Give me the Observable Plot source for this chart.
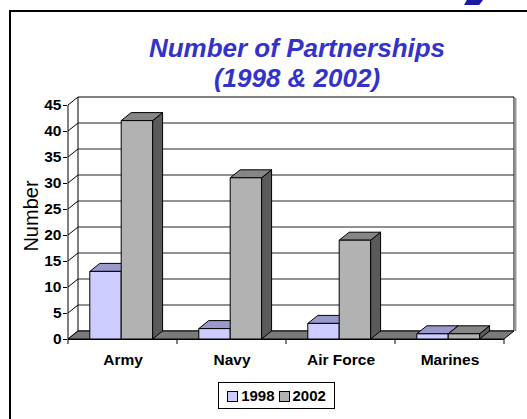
<!DOCTYPE html>
<html>
<head>
<meta charset="utf-8">
<script src="https://cdn.jsdelivr.net/npm/d3@7"></script>
<script src="https://cdn.jsdelivr.net/npm/@observablehq/plot@0.6"></script>
<style>
  html, body { margin: 0; padding: 0; background: #fff; }
  #wrap { position: relative; width: 527px; height: 419px; overflow: hidden; font-family: "Liberation Sans", Arial, sans-serif; }
  #wrap svg.plot { position: absolute; left: 0; top: 0; }
  .frame { position: absolute; left: 9px; top: 10px; width: 540px; height: 430px; border: 2px solid #000; box-sizing: border-box; }
  .deco { position: absolute; left: 464px; top: 0; width: 19px; height: 5px; background: #1a1aa6; clip-path: polygon(0 100%, 15% 0, 100% 0, 80% 100%); }
  .title { position: absolute; left: 97px; width: 400px; text-align: center; color: #3333cc; font-weight: bold; font-style: italic; font-size: 26px; line-height: 30px; top: 33px; }
  .ylabel { position: absolute; left: 31px; top: 216px; transform: translate(-50%, -50%) rotate(-90deg); font-size: 20px; white-space: nowrap; }
  .legend { position: absolute; left: 218px; top: 382px; width: 117px; height: 27px; border: 1px solid #000; box-sizing: border-box; display: flex; align-items: center; justify-content: center; gap: 4px; font-weight: bold; font-size: 15px; }
  .legend .sw { display: inline-block; width: 9px; height: 9px; border: 1px solid #000; margin-right: 3px; vertical-align: -1px; }
  .legend span.item { white-space: nowrap; }
</style>
</head>
<body>
<div id="wrap"></div>
<script>
const categories = ["Army", "Navy", "Air Force", "Marines"];
const series = ["1998", "2002"];
const values1998 = [13, 2, 3, 1];
const values2002 = [42, 31, 19, 1];
const yTicks = [0, 5, 10, 15, 20, 25, 30, 35, 40, 45];
const yMax = 45;

const frontColors = ["#ccccff", "#b2b2b2"];
const topColors = ["#9999cc", "#868686"];
const sideColors = ["#666699", "#5a5a5a"];

const rows = [];
categories.forEach((c, i) => {
  rows.push({cat: c, series: series[0], s: 0, value: values1998[i]});
  rows.push({cat: c, series: series[1], s: 1, value: values2002[i]});
});

const DX = 10, DY = -8;       // depth offset of the 3-D box (pixels)
const barStart = 0.2, barFrac = 0.288;

function scene(index, scales) {
  const x = scales.x, y = scales.y;
  const bw = x.bandwidth();
  const xa = x(categories[0]), xb = x(categories[categories.length - 1]) + bw;
  const y0 = y(0), yT = y(yMax);
  const g = d3.create("svg:g");
  const poly = (pts, fill, stroke = "#000") =>
    g.append("polygon").attr("points", pts.map(p => p.join(",")).join(" "))
      .attr("fill", fill).attr("stroke", stroke).attr("stroke-width", 1).attr("stroke-linejoin", "round");
  const line = (x1, y1, x2, y2, stroke = "#000", w = 1) =>
    g.append("line").attr("x1", x1).attr("y1", y1).attr("x2", x2).attr("y2", y2)
      .attr("stroke", stroke).attr("stroke-width", w);

  // back wall
  poly([[xa + DX, yT + DY], [xb + DX, yT + DY], [xb + DX, y0 + DY], [xa + DX, y0 + DY]], "#fff");
  line(xb + DX + 1.5, yT + DY + 1, xb + DX + 1.5, y0 + DY, "#999", 2);
  // gridlines on the back wall and the side wall
  for (const t of yTicks) {
    if (t > 0 && t < yMax) line(xa + DX, y(t) + DY, xb + DX, y(t) + DY, "#222");
    line(xa, y(t), xa + DX, y(t) + DY, "#000");
  }
  // floor
  poly([[xa, y0], [xb, y0], [xb + DX, y0 + DY], [xa + DX, y0 + DY]], "#7a7a7a");
  // bars
  for (const r of rows) {
    const left = x(r.cat) + bw * (barStart + r.s * barFrac);
    const right = left + bw * barFrac;
    const yv = y(r.value);
    poly([[right, y0], [right + DX, y0 + DY], [right + DX, yv + DY], [right, yv]], sideColors[r.s]);
    poly([[left, yv], [right, yv], [right + DX, yv + DY], [left + DX, yv + DY]], topColors[r.s]);
    poly([[left, y0], [right, y0], [right, yv], [left, yv]], frontColors[r.s]);
  }
  // front axis lines and category ticks
  line(xa, y0, xa, yT);
  line(xa, y0 + 0.5, xb, y0 + 0.5);
  categories.forEach((c, i) => line(x(c), y0, x(c), y0 + 5));
  line(xb, y0, xb, y0 + 5);
  return g.node();
}

const plot = Plot.plot({
  width: 527,
  height: 419,
  marginLeft: 67,
  marginRight: 22,
  marginTop: 105,
  marginBottom: 80,
  style: {fontFamily: "'Liberation Sans', Arial, sans-serif", fontWeight: "bold", fontSize: "15px", color: "#000", background: "transparent", overflow: "visible"},
  x: {type: "band", domain: categories, padding: 0, label: null, tickSize: 0, tickPadding: 14},
  y: {domain: [0, yMax], ticks: yTicks, tickSize: 4, tickPadding: 2, label: null},
  marks: [
    Plot.tickY(rows, {x: "cat", y: "value", strokeOpacity: 0}),
    scene
  ]
});
plot.classList.add("plot");
plot.querySelectorAll("g[aria-label^='x-axis']").forEach(gx => {
  gx.setAttribute("font-size", "15.5px");
  gx.querySelectorAll("text").forEach(t => t.style.fontSize = "15.5px");
});
plot.querySelectorAll("g[aria-label^='y-axis']").forEach(gy => {
  gy.setAttribute("font-size", "15.5px");
  gy.querySelectorAll("text").forEach(t => t.style.fontSize = "15.5px");
});

const wrap = document.getElementById("wrap");
wrap.innerHTML = `
  <div class="deco"></div>
  <div class="frame"></div>
  <div class="title">Number of Partnerships<br>(1998 &amp; 2002)</div>
  <div class="ylabel">Number</div>
  <div class="legend">
    <span class="item"><span class="sw" style="background:${frontColors[0]}"></span>${series[0]}</span>
    <span class="item"><span class="sw" style="background:${frontColors[1]}"></span>${series[1]}</span>
  </div>`;
wrap.appendChild(plot);
</script>
</body>
</html>
